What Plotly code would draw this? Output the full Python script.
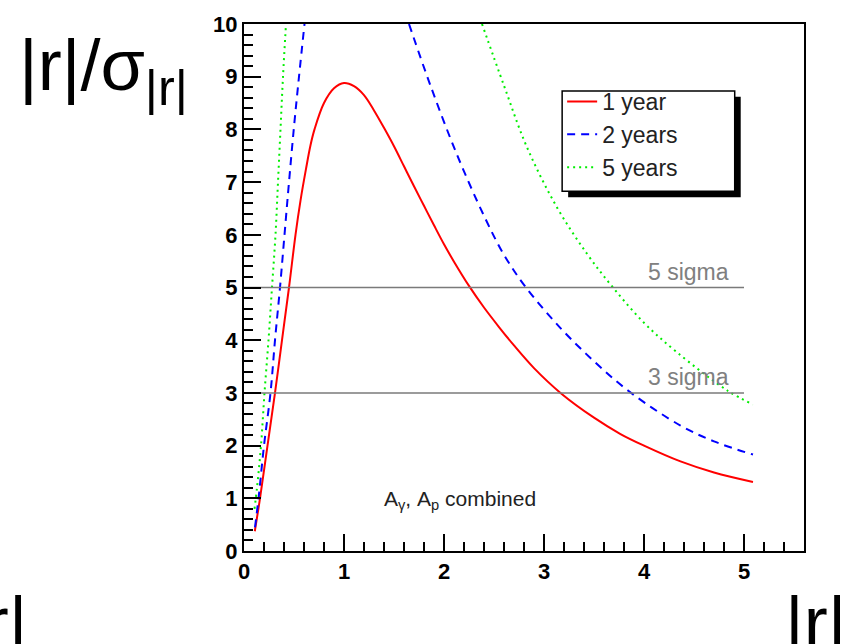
import plotly.graph_objects as go

# ---- data ----
red_x = [0.108, 0.16, 0.235, 0.31, 0.38, 0.45, 0.515, 0.565, 0.62, 0.665, 0.705, 0.80, 0.90, 1.0,
         1.1, 1.2, 1.3, 1.4, 1.5, 1.6, 1.7, 1.8, 1.9, 2.0, 2.1, 2.25, 2.4, 2.55, 2.7, 2.9,
         3.165, 3.5, 3.765, 4.0, 4.365, 4.7, 5.09]
red_y = [0.375, 1.0, 2.0, 3.0, 4.0, 5.0, 6.0, 6.65, 7.25, 7.7, 8.0, 8.5, 8.78, 8.88,
         8.82, 8.65, 8.36, 8.03, 7.68, 7.30, 6.92, 6.55, 6.18, 5.82, 5.49, 5.03, 4.62, 4.25, 3.9, 3.47,
         3.0, 2.53, 2.22, 2.0, 1.70, 1.49, 1.31]

blue_x = [0.11, 0.15, 0.20, 0.265, 0.31, 0.36, 0.405, 0.45, 0.50, 0.55, 0.605, None,
          1.65, 1.865, 2.13, 2.40, 2.60, 2.82, 3.165, 3.5, 3.85, 4.365, 4.7, 5.09]
blue_y = [0.45, 1.08, 2.0, 3.0, 4.0, 5.0, 6.0, 7.0, 8.05, 9.0, 10.0, None,
          10.0, 8.83, 7.52, 6.36, 5.62, 5.0, 4.23, 3.6, 3.03, 2.38, 2.08, 1.83]

green_x = [0.105, 0.13, 0.17, 0.205, 0.245, 0.28, 0.315, 0.34, 0.365, 0.39, 0.42, None,
           2.38, 2.60, 2.83, 3.13, 3.43, 3.69, 4.0, 4.33, 4.83, 5.09]
green_y = [0.8, 1.2, 2.0, 3.0, 4.0, 5.0, 6.0, 7.0, 8.0, 9.0, 10.0, None,
           10.0, 8.83, 7.66, 6.52, 5.64, 5.0, 4.33, 3.77, 3.05, 2.78]

series_names = ["1 year", "2 years", "5 years"]
sigma_levels = [5, 3]
sigma_labels = ["5 sigma", "3 sigma"]
sigma_x_end = 5.0

# ---- layout geometry (pixels) ----
W, H = 844, 644
L, R, T, B = 243.5, 803.6, 17.3, 550.7
X_MAX, Y_MAX = 5.6, 10.0


def px(xp):
    return (xp - L) / (R - L)


def py(yp):
    return (B - yp) / (B - T)


fig = go.Figure()
fig.add_trace(go.Scatter(x=red_x, y=red_y, mode="lines", name=series_names[0],
                         line=dict(color="#ff0000", width=2, shape="spline", smoothing=1.0)))
fig.add_trace(go.Scatter(x=blue_x, y=blue_y, mode="lines", name=series_names[1], connectgaps=False,
                         line=dict(color="#0000ff", width=2, dash="8px,6px", shape="spline", smoothing=1.0)))
fig.add_trace(go.Scatter(x=green_x, y=green_y, mode="lines", name=series_names[2], connectgaps=False,
                         line=dict(color="#00ee00", width=2, dash="2px,4px", shape="spline", smoothing=1.0)))

# sigma reference lines
for lvl, lab in zip(sigma_levels, sigma_labels):
    fig.add_trace(go.Scatter(x=[0, sigma_x_end], y=[lvl, lvl], mode="lines", showlegend=False,
                             line=dict(color="#7a7a7a", width=1.5), hoverinfo="skip"))
    fig.add_annotation(x=4.87, y=lvl, xref="x", yref="y", text=lab, showarrow=False,
                       xanchor="right", yanchor="bottom", yshift=1,
                       font=dict(family="Liberation Sans", size=23, color="#808080"))

fig.add_annotation(x=1.38, y=0.84, xref="x", yref="y", xanchor="left", yanchor="bottom", yshift=-8,
                   text="A<sub>γ</sub>, A<sub>p</sub> combined", showarrow=False,
                   font=dict(family="Liberation Sans", size=21, color="#222222"))

# big outer labels
big_font = dict(family="Liberation Sans", size=72, color="black")
fig.add_annotation(x=px(16), y=py(112), xref="paper", yref="paper", xanchor="left", yanchor="bottom",
                   text="|r|/σ<sub>|r|</sub>", showarrow=False, font=big_font)
fig.add_annotation(x=px(28), y=py(580), xref="paper", yref="paper", xanchor="right", yanchor="top",
                   text="|r|", showarrow=False, font=big_font)
fig.add_annotation(x=px(783), y=py(580), xref="paper", yref="paper", xanchor="left", yanchor="top",
                   text="|r|", showarrow=False, font=big_font)

# legend frame with drop shadow
fig.add_shape(type="rect", xref="paper", yref="paper", x0=px(567.7), x1=px(740.3), y0=py(192.7), y1=py(91),
              fillcolor="black", line=dict(width=0), layer="above")
fig.add_shape(type="rect", xref="paper", yref="paper", x0=px(561.7), x1=px(734.3), y0=py(186.7), y1=py(85),
              fillcolor="white", line=dict(color="black", width=1.5), layer="above")

axis_common = dict(showline=True, linecolor="black", linewidth=2, mirror=True, ticks="inside",
                   ticklen=17, tickwidth=1.5, tickcolor="black", showgrid=False, zeroline=False,
                   tickfont=dict(family="Liberation Sans", size=22, color="black", weight="bold"),
                   minor=dict(ticks="inside", ticklen=9, tickwidth=1.5, tickcolor="black", showgrid=False))

fig.update_xaxes(range=[0, X_MAX], dtick=1, tick0=0, **axis_common)
fig.update_yaxes(range=[0, Y_MAX], dtick=1, tick0=0, **axis_common)
fig.update_xaxes(minor_dtick=0.2)
fig.update_yaxes(minor_dtick=0.2)

fig.update_layout(
    width=W, height=H, autosize=False,
    margin=dict(l=L, r=W - R, t=T, b=H - B, pad=0),
    paper_bgcolor="white", plot_bgcolor="white",
    showlegend=True,
    legend=dict(x=px(561.7), y=py(74), xanchor="left", yanchor="top",
                bgcolor="rgba(0,0,0,0)", borderwidth=0,
                font=dict(family="Liberation Sans", size=23, color="#222222"),
                itemwidth=30),
)

fig.write_html("out.html")
